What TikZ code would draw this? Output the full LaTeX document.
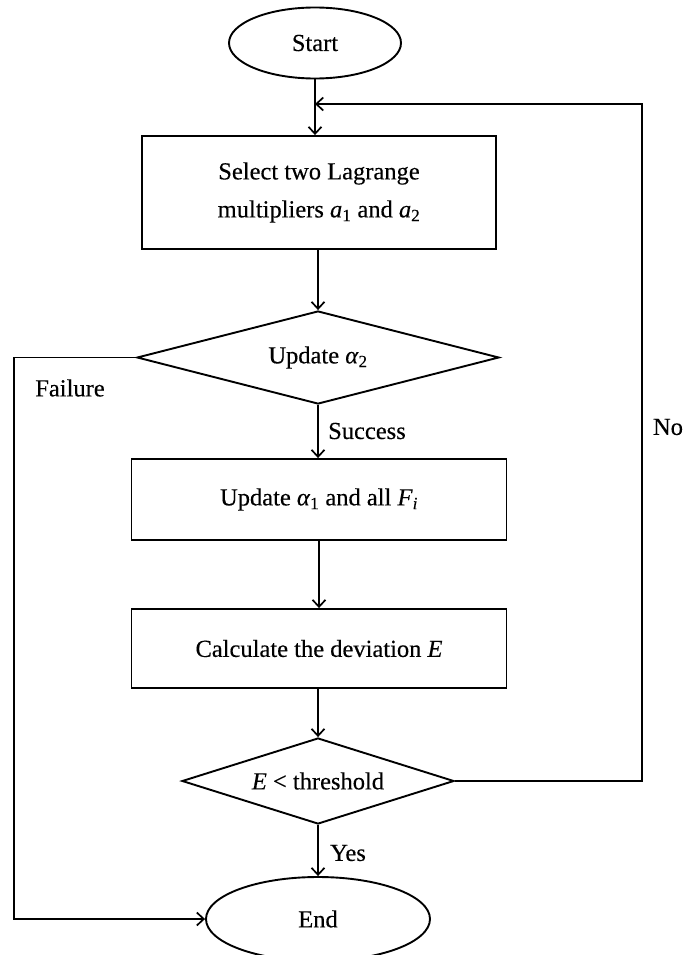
\documentclass[tikz,border=0pt]{standalone}
\usepackage{fontspec}
\setmainfont{Liberation Serif}[UprightFeatures={FakeBold=0.3},ItalicFeatures={FakeBold=0.3}]
\usetikzlibrary{shapes.geometric,arrows.meta}
% italic symbol with an upright subscript
\newcommand\symsub[2]{\textit{#1}\textsubscript{#2}}
\begin{document}
\begin{tikzpicture}[x=1pt,y=-1pt,
  flow/.style={draw, line width=1.9pt, inner sep=0pt, align=center,
    font=\fontsize{24.5}{30}\selectfont},
  terminal/.style={flow, ellipse},
  procbox/.style={flow, rectangle},
  decision/.style={flow, diamond, aspect=3.5},
  tag/.style={font=\fontsize{24.5}{30}\selectfont, inner sep=0pt},
  link/.style={line width=1.9pt,
    -{Straight Barb[length=7pt,width=13pt,line width=1.7pt]}},
]
\useasboundingbox[fill=white] (0,0) rectangle (687,955);

% main column
\node[terminal, minimum width=172pt, minimum height=71pt] (start) at (315,43) {Start};
\node[procbox, minimum width=354pt, minimum height=113pt,
      font=\fontsize{24.5}{38}\selectfont] (select) at (319,192.5)
  {Select two Lagrange\\multipliers \symsub{a}{1} and \symsub{a}{2}};
\node[decision, minimum width=362pt, minimum height=93pt] (upd2) at (318,357.5) {Update \symsub{α}{2}};
\node[procbox, minimum width=375pt, minimum height=81pt] (upd1) at (319,499.5) {Update \symsub{α}{1} and all \symsub{F}{\textit{i}}};
\node[procbox, minimum width=375pt, minimum height=79pt] (calc) at (319,648.5) {Calculate the deviation \textit{E}};
\node[decision, minimum width=272pt, minimum height=86pt] (test) at (318,781) {\textit{E} < threshold};
\node[terminal, minimum width=224pt, minimum height=84pt] (end) at (318,919) {End};

% return rails
\coordinate (join) at (315,104);
\coordinate (leftrail) at (14,0);
\coordinate (rightrail) at (642,0);

% connectors
\draw[link] (start.south) -- (start.south |- select.north);
\draw[link] (select.south -| upd2.north) -- (upd2.north);
\draw[link] (upd2.south) -- (upd1.north -| upd2.south);
\draw[link] (upd1.south -| calc.north) -- (calc.north);
\draw[link] (calc.south -| test.north) -- (test.north);
\draw[link] (test.south) -- (end.north);
\draw[link] (upd2.west) -- (upd2.west -| leftrail) |- (end.west);
\draw[link] (test.east) -- (test.east -| rightrail) |- (join);

% branch labels
\node[tag, anchor=west] (succ) at (328,431) {Success};
\node[tag] (fail) at (70,388) {Failure};
\node[tag, anchor=west] (yes) at (330,853) {Yes};
\node[tag] (no) at (668,427) {No};
\end{tikzpicture}
\end{document}
